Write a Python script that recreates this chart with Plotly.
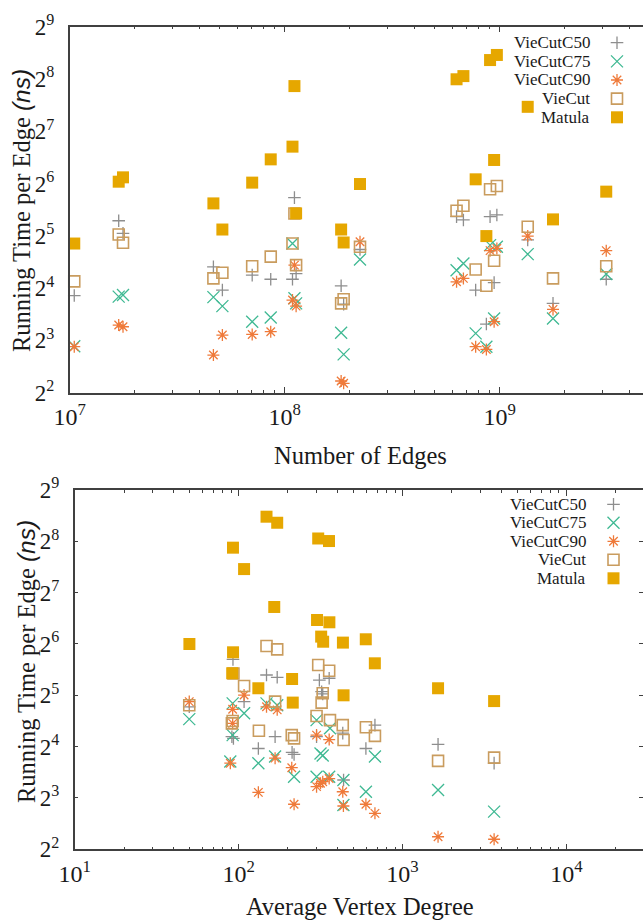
import math
import plotly.graph_objects as go

W, H = 643, 920

SERIES = ["VieCutC50", "VieCutC75", "VieCutC90", "VieCut", "Matula"]

# ---- Panel 1: running time per edge vs. number of edges (one value per graph) ----
edges = [1.05e7, 1.69e7, 1.77e7, 4.66e7, 5.13e7, 7.06e7, 8.61e7, 1.087e8, 1.11e8, 1.13e8,
         1.83e8, 1.88e8, 2.24e8, 6.3e8, 6.78e8, 7.73e8, 8.67e8, 9.02e8, 9.42e8, 9.7e8,
         1.35e9, 1.77e9, 3.13e9]
edges_c50 = [14.5, 39.1, 33.1, 21.2, 15.6, 19.0, 18.0, 18.0, 53.1, 19.4,
             16.5, 12.95, 26.7, 41.3, 39.5, 15.6, 9.94, 41.3, 17.2, 42.2,
             30.3, 13.07, 18.0]
edges_c75 = [7.4, 14.3, 14.6, 14.2, 12.6, 10.25, 10.85, 28.9, 14.0, 13.07,
             8.86, 6.65, 23.4, 20.3, 22.2, 8.78, 7.36, 28.3, 10.7, 27.7,
             25.1, 10.7, 19.3]
edges_c90 = [7.36, 9.81, 9.59, 6.59, 8.59, 8.66, 8.98, 13.66, 21.7, 12.6,
             4.67, 4.53, 29.6, 17.4, 18.2, 7.36, 7.1, 26.3, 10.25, 27.1,
             31.9, 12.07, 26.3]
edges_viecut = [17.5, 32.6, 29.2, 18.2, 19.6, 21.4, 24.3, 28.9, 43.0, 21.7,
                13.07, 13.8, 27.7, 44.6, 47.7, 20.5, 16.5, 59.3, 23.0, 62.0,
                36.1, 18.2, 21.4]
edges_matula = [28.9, 65.6, 69.5, 49.2, 34.8, 64.8, 88.2, 104.4, 233.0, 43.1,
                34.8, 29.3, 63.6, 255.0, 266.0, 67.7, 31.9, 329.0, 87.5, 352.0,
                177.0, 39.8, 57.5]

# ---- Panel 2: running time per edge vs. average vertex degree ----
deg_c50 = [92.4, 148, 172, 311, 357, 321, 326, 108, 50, 91, 93, 679, 432, 167, 132,
           218, 212, 598, 299, 437, 1648, 3622]
time_c50 = [52.0, 42.1, 40.8, 39.3, 40.3, 33.6, 32.6, 29.4, 27.4, 18.3, 17.9, 21.4, 19.2, 18.3, 15.6,
            14.4, 14.8, 15.6, 18.3, 10.2, 16.5, 12.8]
deg_c75 = [50, 92, 108, 148, 172, 299, 361, 92, 89, 132, 167, 316, 326, 679, 218,
           299, 357, 436, 598, 436, 1648, 3622]
time_c75 = [23.2, 28.7, 25.1, 28.7, 28.0, 22.9, 20.5, 18.7, 13.1, 12.8, 14.0, 14.6, 14.2, 14.0, 10.66,
            10.66, 10.66, 10.2, 8.7, 7.27, 8.9, 6.65]
deg_c90 = [50, 108, 92, 148, 172, 92, 299, 357, 89, 132, 167, 211, 218, 299, 316,
           326, 357, 432, 436, 598, 679, 1648, 3622]
time_c90 = [29.4, 32.1, 26.5, 27.4, 26.3, 21.9, 18.7, 17.6, 12.8, 8.63, 13.7, 12.04, 7.35, 9.32, 9.75,
            9.97, 10.4, 8.7, 7.18, 7.35, 6.5, 4.74, 4.58]
deg_viecut = [148, 172, 306, 357, 108, 93, 167, 326, 321, 50, 91, 92, 299, 361, 432,
              133, 598, 679, 211, 218, 437, 1648, 3622]
time_viecut = [62.3, 59.5, 48.2, 44.6, 36.3, 43.0, 29.4, 32.9, 29.0, 28.0, 21.9, 22.6, 24.2, 22.9, 21.4,
               19.85, 20.8, 18.5, 18.7, 17.9, 17.5, 13.2, 13.8]
deg_matula = [50.1, 92.4, 108, 148, 172, 306, 356, 165, 301, 358, 319, 328, 433, 597, 678,
              92.5, 91.4, 132, 212, 437, 1648, 214, 3622]
time_matula = [64.0, 235.0, 176.0, 357.0, 329.0, 266.0, 257.0, 105.5, 88.5, 85.8, 70.7, 66.0, 65.2, 68.2, 49.3,
               57.2, 43.1, 35.2, 39.9, 32.0, 35.2, 29.0, 29.6]

# y ticks: powers of two; x ticks: powers of ten
y_exponents = [2, 3, 4, 5, 6, 7, 8, 9]
edge_exponents = [7, 8, 9]
degree_exponents = [1, 2, 3, 4]

STYLE = {
    "VieCutC50": dict(symbol="cross-thin-open", color="#8e8e8e", size=9, width=1.3),
    "VieCutC75": dict(symbol="x-thin-open", color="#3fb993", size=12, width=1.3),
    "VieCutC90": dict(symbol="asterisk-open", color="#ef7a3a", size=10, width=1.3),
    "VieCut": dict(symbol="square-open", color="#c99c5e", size=11, width=1.6),
    "Matula": dict(symbol="square", color="#e6a700", size=12, width=0),
}

SERIF = "Liberation Serif, Times New Roman, serif"
TEXT_COLOR = "#1a1a1a"
AXIS_COLOR = "#404040"


def px_x(p):
    return p / W


def px_y(p):
    return 1 - p / H


# panel geometry (pixels)
P1 = dict(left=69.7, top=26.7, bottom=392.7, decade=215.0, x0=7)
P2 = dict(left=74.7, top=490.0, bottom=849.3, decade=163.9, x0=1)

fig = go.Figure()


def marker(name):
    s = STYLE[name]
    return dict(symbol=s["symbol"], size=s["size"], color=s["color"],
                line=dict(color=s["color"], width=s["width"]))


panel1 = {
    "VieCutC50": (edges, edges_c50),
    "VieCutC75": (edges, edges_c75),
    "VieCutC90": (edges, edges_c90),
    "VieCut": (edges, edges_viecut),
    "Matula": (edges, edges_matula),
}
panel2 = {
    "VieCutC50": (deg_c50, time_c50),
    "VieCutC75": (deg_c75, time_c75),
    "VieCutC90": (deg_c90, time_c90),
    "VieCut": (deg_viecut, time_viecut),
    "Matula": (deg_matula, time_matula),
}

for name in SERIES:
    xs, ys = panel1[name]
    fig.add_trace(go.Scatter(x=xs, y=ys, mode="markers", name=name, marker=marker(name),
                             xaxis="x", yaxis="y", showlegend=False, cliponaxis=False))
for name in SERIES:
    xs, ys = panel2[name]
    fig.add_trace(go.Scatter(x=xs, y=ys, mode="markers", name=name, marker=marker(name),
                             xaxis="x2", yaxis="y2", showlegend=False, cliponaxis=False))

# legend keys on a pixel-space helper axis pair, labels to their left
LEG = [dict(text_right=591.5, key_x=617.0, row0=42.7, step=18.65),
       dict(text_right=588.0, key_x=613.5, row0=504.3, step=18.5)]
annotations = []
for leg in LEG:
    for i, name in enumerate(SERIES):
        yy = leg["row0"] + i * leg["step"]
        fig.add_trace(go.Scatter(x=[leg["key_x"]], y=[yy], mode="markers", marker=marker(name),
                                 xaxis="x3", yaxis="y3", showlegend=False, hoverinfo="skip"))
        annotations.append(dict(x=px_x(leg["text_right"]), y=px_y(yy), xref="paper", yref="paper",
                                text=name, showarrow=False, xanchor="right", yanchor="middle",
                                font=dict(family=SERIF, size=17, color=TEXT_COLOR)))

# empty trace so the mirrored right-hand tick axis of panel 2 is drawn
fig.add_trace(go.Scatter(x=[], y=[], xaxis="x2", yaxis="y4", showlegend=False))

ytick_vals = [2 ** e for e in y_exponents]
ytick_text = ["2<sup>%d</sup>" % e for e in y_exponents]


def minor_vals(exponents, lo, hi):
    vals = []
    for e in range(exponents[0], exponents[-1] + 1):
        for k in range(2, 10):
            v = k * 10 ** e
            if lo <= math.log10(v) <= hi:
                vals.append(v)
    return vals


x1_range = [P1["x0"], P1["x0"] + (W - P1["left"]) / P1["decade"]]
x2_range = [P2["x0"], P2["x0"] + (W - P2["left"]) / P2["decade"]]
y_range = [math.log10(4), math.log10(512)]

xtickfont = dict(family=SERIF, size=24, color=TEXT_COLOR)
ytickfont = dict(family=SERIF, size=23, color=TEXT_COLOR)

common_x = dict(type="log", showline=True, linecolor=AXIS_COLOR, linewidth=1.5, mirror="ticks",
                ticks="inside", ticklen=6, tickwidth=1, tickcolor=AXIS_COLOR, showgrid=False,
                zeroline=False, tickfont=xtickfont, tickmode="array", ticklabelstandoff=2,
                automargin=False)
common_y = dict(type="log", range=y_range, showline=True, linecolor=AXIS_COLOR, linewidth=1.5,
                showgrid=False, zeroline=False, tickmode="array", tickvals=ytick_vals,
                ticktext=ytick_text, tickfont=ytickfont, ticklabelstandoff=9, automargin=False)

fig.update_layout(
    template="none",
    width=W, height=H,
    margin=dict(l=0, r=0, t=0, b=0, autoexpand=False),
    paper_bgcolor="white", plot_bgcolor="rgba(0,0,0,0)",
    showlegend=False,
    xaxis=dict(common_x, domain=[px_x(P1["left"]), 1.0], anchor="y", range=x1_range,
               tickvals=[10 ** e for e in edge_exponents],
               ticktext=["10<sup>%d</sup>" % e for e in edge_exponents],
               minor=dict(tickmode="array", tickvals=minor_vals(edge_exponents, *x1_range),
                          ticks="inside", ticklen=3, tickwidth=1, tickcolor=AXIS_COLOR)),
    yaxis=dict(common_y, domain=[px_y(P1["bottom"]), px_y(P1["top"])], anchor="x", ticks=""),
    xaxis2=dict(common_x, domain=[px_x(P2["left"]), 1.0], anchor="y2", range=x2_range,
                tickvals=[10 ** e for e in degree_exponents],
                ticktext=["10<sup>%d</sup>" % e for e in degree_exponents],
                minor=dict(tickmode="array", tickvals=minor_vals(degree_exponents, *x2_range),
                           ticks="inside", ticklen=3, tickwidth=1, tickcolor=AXIS_COLOR)),
    yaxis2=dict(common_y, domain=[px_y(P2["bottom"]), px_y(P2["top"])], anchor="x2",
                ticks="inside", ticklen=4, tickwidth=1, tickcolor=AXIS_COLOR),
    yaxis4=dict(type="log", overlaying="y2", side="right", anchor="x2", range=y_range,
                showline=False, ticks="inside", ticklen=4, tickwidth=1, tickcolor=AXIS_COLOR,
                showgrid=False, zeroline=False, tickmode="array", tickvals=ytick_vals,
                showticklabels=False, automargin=False),
    xaxis3=dict(domain=[0, 1], range=[0, W], visible=False, anchor="y3", automargin=False),
    yaxis3=dict(domain=[0, 1], range=[H, 0], visible=False, anchor="x3", automargin=False),
)

TITLE_FONT = dict(family=SERIF, size=24.5, color=TEXT_COLOR)
ns = "<span style=\"font-family:'Liberation Sans', Arial, sans-serif\"><i>(ns)</i></span>"
titles = [
    dict(x=px_x(360), y=px_y(455), text="Number of Edges"),
    dict(x=px_x(360), y=px_y(906), text="Average Vertex Degree"),
    dict(x=px_x(21), y=px_y(211), text="Running Time per Edge " + ns, textangle=-90),
    dict(x=px_x(26), y=px_y(662), text="Running Time per Edge " + ns, textangle=-90),
]
for a in titles:
    a.update(xref="paper", yref="paper", showarrow=False, xanchor="center", yanchor="middle",
             font=TITLE_FONT)
fig.update_layout(annotations=annotations + titles)

fig.write_html("out.html")
